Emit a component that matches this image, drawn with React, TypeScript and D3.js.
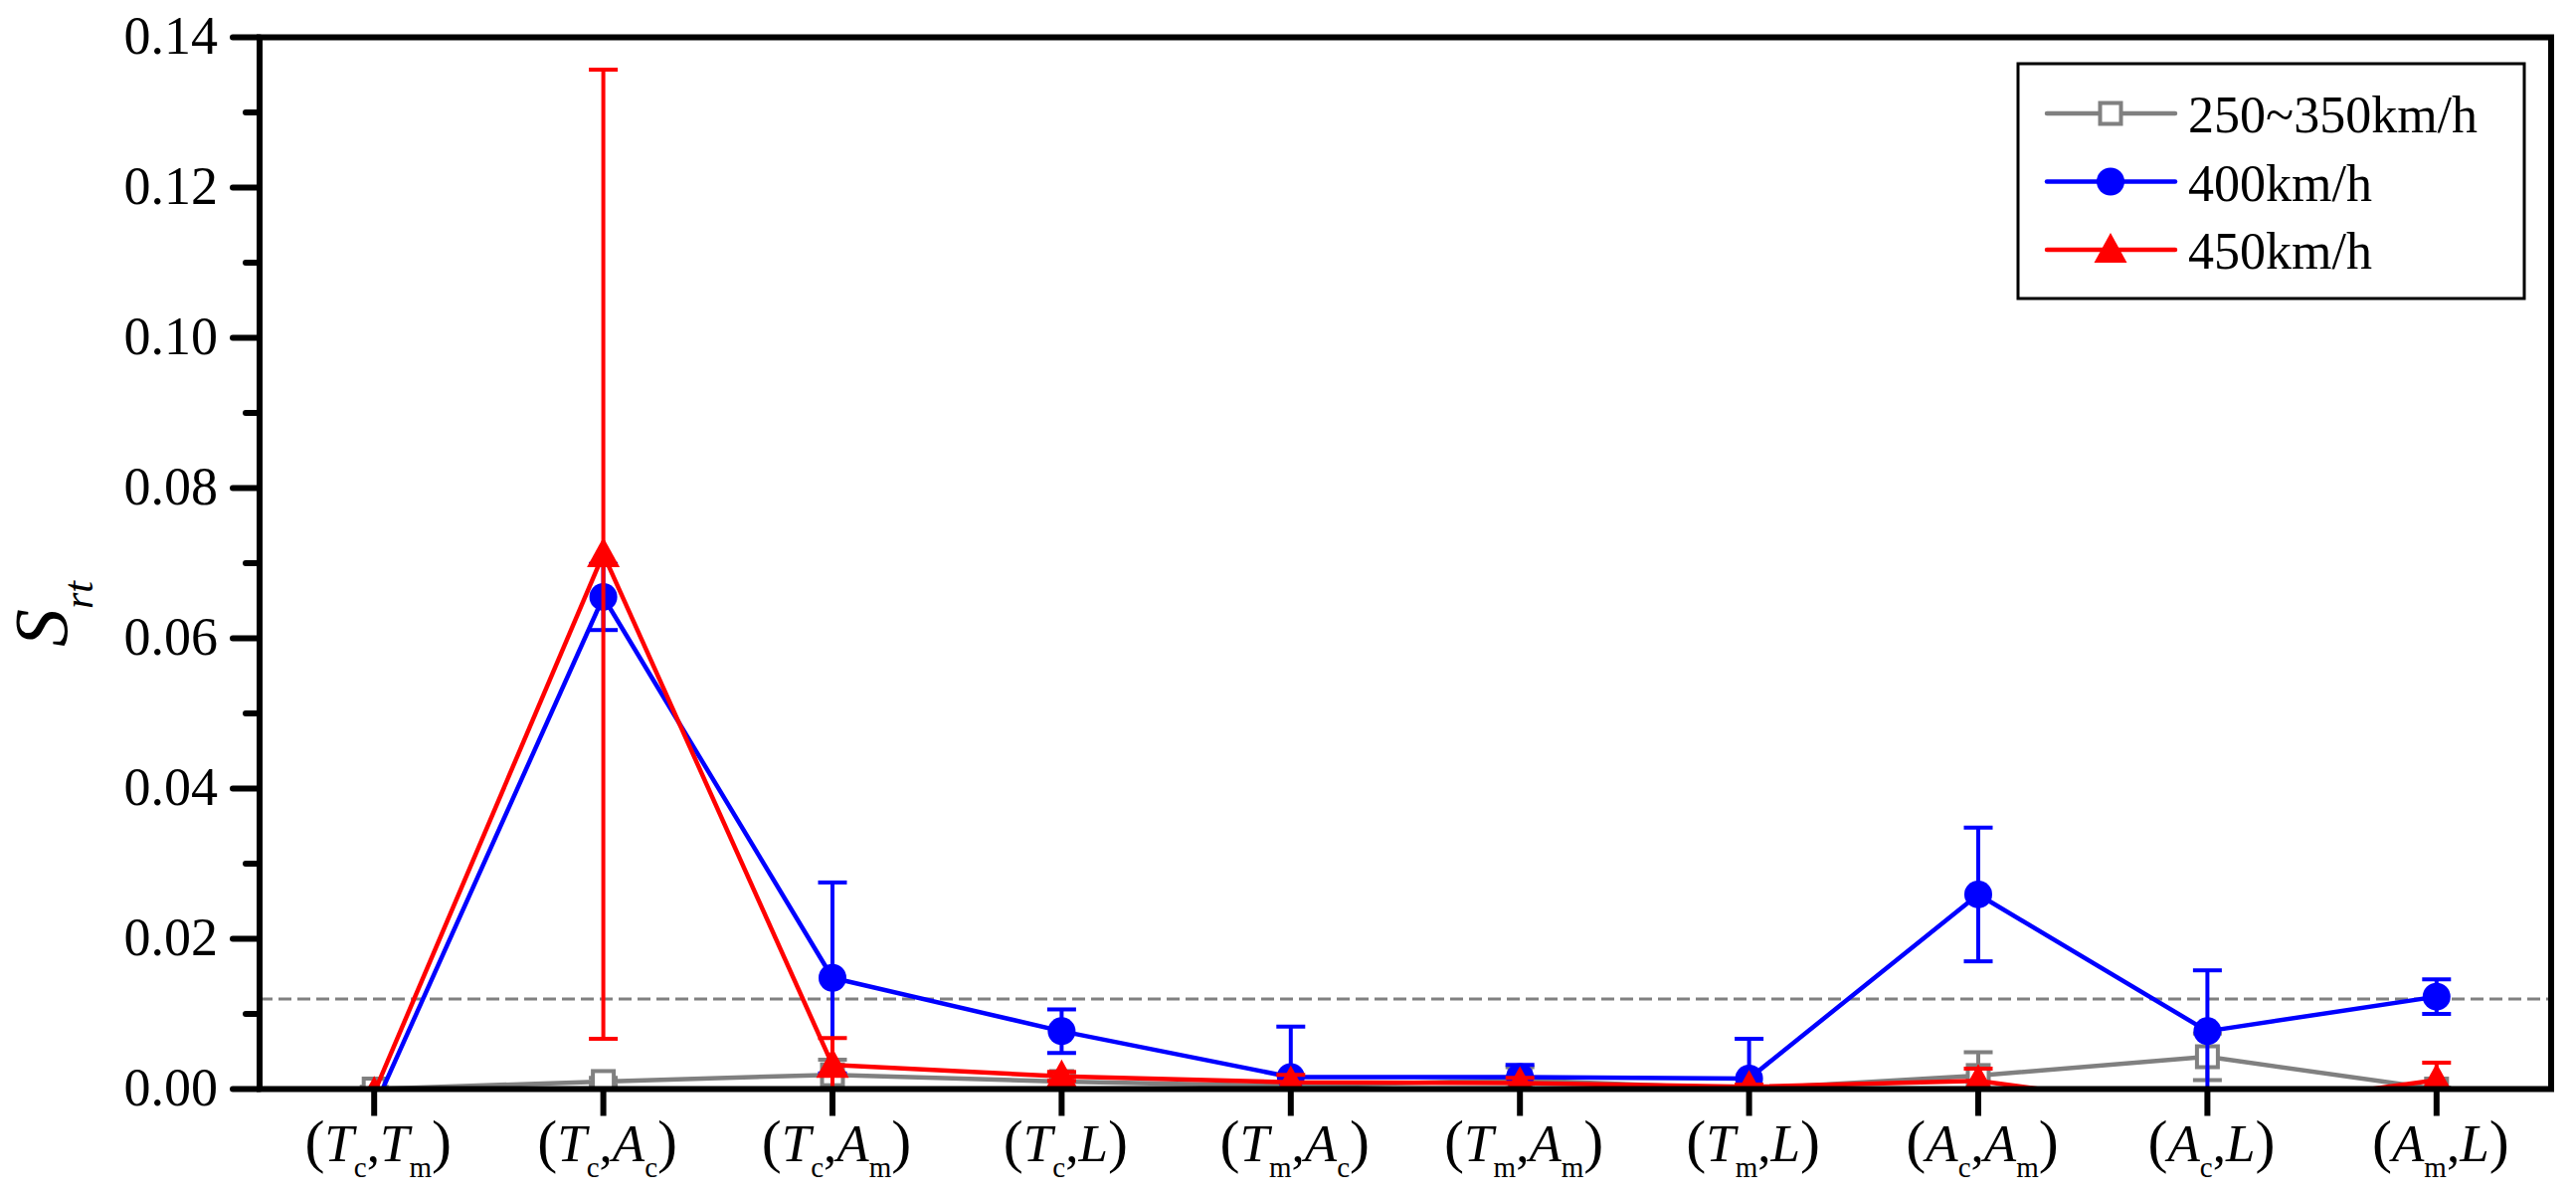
import React, { useEffect, useRef } from 'react';
import * as d3 from 'd3';

// x categories: first char = italic symbol, rest = roman subscript
const pairs: [string, string][] = [
  ['Tc', 'Tm'], ['Tc', 'Ac'], ['Tc', 'Am'], ['Tc', 'L'], ['Tm', 'Ac'],
  ['Tm', 'Am'], ['Tm', 'L'], ['Ac', 'Am'], ['Ac', 'L'], ['Am', 'L'],
];

const yTicks = [0, 0.02, 0.04, 0.06, 0.08, 0.1, 0.12, 0.14];

const seriesNames = ['250~350km/h', '400km/h', '450km/h'];

const gray = [0.0, 0.001, 0.0019, 0.001, 0.0004, 0.0012, 0.0, 0.0018, 0.0043, 0.0];
const grayErr = [0.0003, 0.0005, 0.002, 0.0012, 0.0004, 0.0017, 0.0002, 0.0031, 0.0031, 0.0002];

const blue = [-0.0025, 0.0655, 0.0148, 0.0077, 0.0016, 0.0016, 0.0014, 0.0259, 0.0077, 0.0123];
const blueErr = [0.0005, 0.0044, 0.0127, 0.0029, 0.0067, 0.0016, 0.0053, 0.0089, 0.0081, 0.0023];

const red = [-0.0005, 0.0712, 0.0032, 0.0017, 0.0009, 0.0008, 0.0003, 0.0011, -0.003, 0.0012];
const redErr = [0.0003, 0.0645, 0.0036, 0.0006, 0.001, 0.0007, 0.0003, 0.0016, 0.0005, 0.0023];

const threshold = 0.012;

const FONT = '"Liberation Serif", "Times New Roman", serif';

export default function App() {
  const svgRef = useRef<SVGSVGElement>(null);

  useEffect(() => {
    if (!svgRef.current) return;
    const W = 2590;
    const H = 1202;
    const left = 261, right = 2565, top = 37.5, bottom = 1094.5;

    const svg = d3.select(svgRef.current);
    svg.selectAll('*').remove();
    svg.attr('width', W).attr('height', H);

    const x = d3.scaleLinear().domain([0.5, 10.5]).range([left, right]);
    const y = d3.scaleLinear().domain([0, 0.14]).range([bottom, top]);

    svg.append('defs').append('clipPath').attr('id', 'plotClip')
      .append('rect')
      .attr('x', left).attr('y', top)
      .attr('width', right - left).attr('height', bottom - top);

    const plot = svg.append('g').attr('clip-path', 'url(#plotClip)');

    // threshold dashed line
    plot.append('line')
      .attr('x1', left).attr('x2', right)
      .attr('y1', y(threshold)).attr('y2', y(threshold))
      .attr('stroke', '#808080').attr('stroke-width', 3)
      .attr('stroke-dasharray', '13 6');

    const series = [
      { name: seriesNames[0], vals: gray, err: grayErr, color: '#808080', marker: 'square' },
      { name: seriesNames[1], vals: blue, err: blueErr, color: '#0000ff', marker: 'circle' },
      { name: seriesNames[2], vals: red, err: redErr, color: '#ff0000', marker: 'triangle' },
    ];

    const drawMarker = (g: any, kind: string, color: string, cx: number, cy: number) => {
      if (kind === 'square') {
        g.append('rect')
          .attr('x', cx - 10.5).attr('y', cy - 10.5)
          .attr('width', 21).attr('height', 21)
          .attr('fill', '#fff').attr('stroke', color).attr('stroke-width', 4);
      } else if (kind === 'circle') {
        g.append('circle').attr('cx', cx).attr('cy', cy).attr('r', 14).attr('fill', color);
      } else {
        g.append('path')
          .attr('d', `M${cx},${cy - 17}L${cx + 16.5},${cy + 13}L${cx - 16.5},${cy + 13}Z`)
          .attr('fill', color);
      }
    };

    const line = d3.line<number>().x((_, i) => x(i + 1)).y(d => y(d));

    series.forEach(s => {
      const g = plot.append('g');
      g.append('path')
        .attr('d', line(s.vals))
        .attr('fill', 'none')
        .attr('stroke', s.color)
        .attr('stroke-width', 4.5)
        .attr('stroke-linejoin', 'round');

      s.vals.forEach((v, i) => {
        const cx = x(i + 1);
        const y1 = y(v - s.err[i]);
        const y2 = y(v + s.err[i]);
        g.append('line').attr('x1', cx).attr('x2', cx).attr('y1', y1).attr('y2', y2)
          .attr('stroke', s.color).attr('stroke-width', 4);
        [y1, y2].forEach(yy => {
          g.append('line').attr('x1', cx - 14.5).attr('x2', cx + 14.5).attr('y1', yy).attr('y2', yy)
            .attr('stroke', s.color).attr('stroke-width', 4);
        });
      });

      s.vals.forEach((v, i) => drawMarker(g, s.marker, s.color, x(i + 1), y(v)));
    });

    // frame
    svg.append('rect')
      .attr('x', left).attr('y', top)
      .attr('width', right - left).attr('height', bottom - top)
      .attr('fill', 'none').attr('stroke', '#000').attr('stroke-width', 6);

    // y ticks
    const axis = svg.append('g');
    yTicks.forEach(t => {
      axis.append('line').attr('x1', left - 27).attr('x2', left)
        .attr('y1', y(t)).attr('y2', y(t))
        .attr('stroke', '#000').attr('stroke-width', 6).attr('stroke-linecap', 'round');
      axis.append('text')
        .attr('x', 219).attr('y', y(t) + 16)
        .attr('text-anchor', 'end')
        .style('font-family', FONT).style('font-size', '54px')
        .text(d3.format('.2f')(t));
    });
    d3.range(0.01, 0.14, 0.02).forEach(t => {
      axis.append('line').attr('x1', left - 14).attr('x2', left)
        .attr('y1', y(t)).attr('y2', y(t))
        .attr('stroke', '#000').attr('stroke-width', 6).attr('stroke-linecap', 'round');
    });

    // x ticks and labels
    pairs.forEach((p, i) => {
      const cx = x(i + 1);
      axis.append('line').attr('x1', cx).attr('x2', cx)
        .attr('y1', bottom).attr('y2', bottom + 27)
        .attr('stroke', '#000').attr('stroke-width', 6);
      const txt = axis.append('text')
        .attr('x', cx + 4).attr('y', 1167)
        .attr('text-anchor', 'middle')
        .style('font-family', FONT).style('font-size', '53px');
      txt.append('tspan').style('font-size', '60px').text('(');
      p.forEach((f, k) => {
        txt.append('tspan').style('font-style', 'italic').text(f[0]);
        if (f.length > 1) {
          txt.append('tspan').attr('dy', 16).style('font-size', '29px').text(f.slice(1));
          if (k === 0) txt.append('tspan').attr('dy', -16).text(',');
          else txt.append('tspan').attr('dy', -16).style('font-size', '60px').text(')');
        } else {
          if (k === 0) txt.append('tspan').text(',');
          else txt.append('tspan').style('font-size', '60px').text(')');
        }
      });
    });

    // y title
    const yt = svg.append('text')
      .attr('transform', 'translate(67,650) rotate(-90)')
      .style('font-family', FONT).style('font-style', 'italic');
    yt.append('tspan').style('font-size', '76px').text('S');
    yt.append('tspan').attr('dy', 26).style('font-size', '42px').text('rt');

    // legend
    const lg = svg.append('g');
    lg.append('rect')
      .attr('x', 2029).attr('y', 64).attr('width', 509).attr('height', 236)
      .attr('fill', '#fff').attr('stroke', '#000').attr('stroke-width', 3);
    series.forEach((s, i) => {
      const ly = 114 + i * 68.5;
      lg.append('line').attr('x1', 2058).attr('x2', 2187).attr('y1', ly).attr('y2', ly)
        .attr('stroke', s.color).attr('stroke-width', 4.5).attr('stroke-linecap', 'round');
      drawMarker(lg, s.marker, s.color, 2122, ly);
      lg.append('text')
        .attr('x', 2200).attr('y', ly + 19)
        .style('font-family', FONT).style('font-size', '52px')
        .text(s.name);
    });
  }, []);

  return (
    <svg
      ref={svgRef}
      style={{ position: 'absolute', left: 0, top: 0, background: '#fff' }}
    />
  );
}
